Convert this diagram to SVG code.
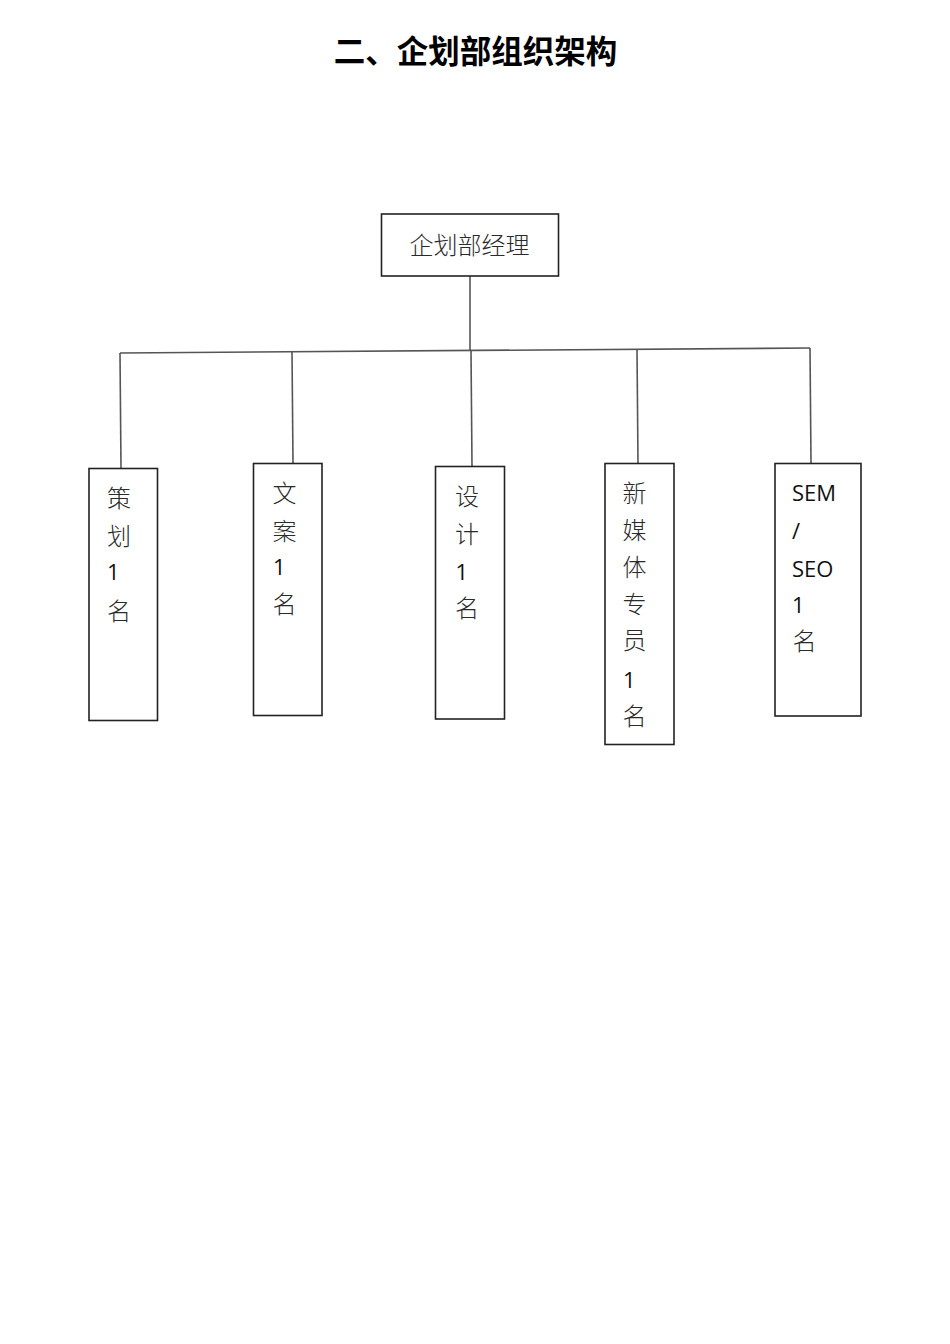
<svg xmlns="http://www.w3.org/2000/svg" width="950" height="1344" viewBox="0 0 950 1344">
<style>
.box{fill:#fff;stroke:#222;stroke-width:1.6}
.cjk{font-family:"Noto Sans CJK SC","Noto Sans",sans-serif;font-weight:300;fill:#2a2a2a;font-size:24px}
.lat{font-family:"Open Sans","Noto Sans",sans-serif;fill:#111;font-size:22px}
.conn{stroke:#555;stroke-width:1.6;fill:none}
</style>
<rect width="950" height="1344" fill="#fff"/>
<text x="475.5" y="63" text-anchor="middle" font-family="'Noto Sans CJK SC',sans-serif" font-weight="700" font-size="31.5" fill="#000">二、企划部组织架构</text>
<g id="connectors">
<path class="conn" d="M470 276 L470 351"/>
<path class="conn" d="M120 353 L810 348"/>
<path class="conn" d="M120 353 L121 468"/>
<path class="conn" d="M292 352 L293 463"/>
<path class="conn" d="M471 351 L472 466"/>
<path class="conn" d="M637 350 L638 463"/>
<path class="conn" d="M810 348 L811 463"/>
</g>
<g id="manager">
<rect class="box" x="381.5" y="214" width="177" height="62"/>
<text class="cjk" x="469.5" y="254" text-anchor="middle" font-size="26.5">企划部经理</text>
</g>
<g id="n1">
<rect class="box" x="89" y="468.5" width="68.5" height="252"/>
<text class="cjk"><tspan x="107" y="507">策</tspan><tspan x="107" y="545">划</tspan></text>
<text class="lat" x="107" y="580">1</text>
<text class="cjk" x="107" y="620">名</text>
</g>
<g id="n2">
<rect class="box" x="253.5" y="463.5" width="68.5" height="252"/>
<text class="cjk"><tspan x="272.5" y="502">文</tspan><tspan x="272.5" y="540">案</tspan></text>
<text class="lat" x="273" y="575">1</text>
<text class="cjk" x="272.5" y="613">名</text>
</g>
<g id="n3">
<rect class="box" x="435.5" y="466.5" width="69" height="252.5"/>
<text class="cjk"><tspan x="455" y="505">设</tspan><tspan x="455" y="543">计</tspan></text>
<text class="lat" x="455.5" y="580">1</text>
<text class="cjk" x="455" y="617">名</text>
</g>
<g id="n4">
<rect class="box" x="605" y="463.5" width="69" height="281"/>
<text class="cjk"><tspan x="622.5" y="502">新</tspan><tspan x="622.5" y="539">媒</tspan><tspan x="622.5" y="576">体</tspan><tspan x="622.5" y="613">专</tspan><tspan x="622.5" y="649">员</tspan></text>
<text class="lat" x="623" y="688">1</text>
<text class="cjk" x="622.5" y="725">名</text>
</g>
<g id="n5">
<rect class="box" x="775" y="463.5" width="86" height="252.5"/>
<text class="lat"><tspan x="792" y="501">SEM</tspan><tspan x="792" y="539">/</tspan><tspan x="792" y="576.5">SEO</tspan><tspan x="792" y="613">1</tspan></text>
<text class="cjk" x="792.5" y="650">名</text>
</g>
</svg>
